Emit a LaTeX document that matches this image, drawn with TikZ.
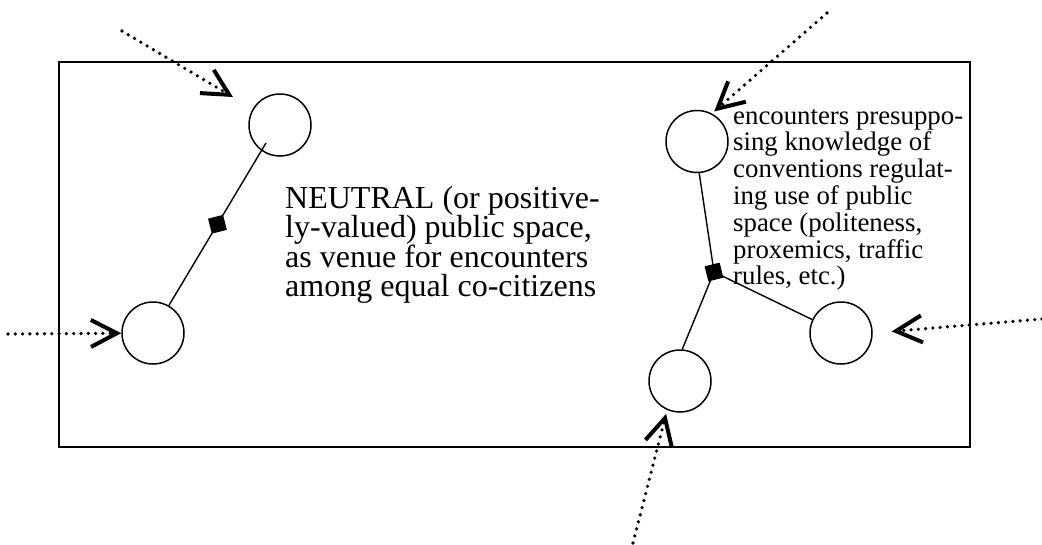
\documentclass[tikz,border=0pt]{standalone}
\usepackage{fontspec}
\setmainfont{Liberation Serif}
\usetikzlibrary{arrows.meta,shapes.geometric,calc}
\begin{document}
\begin{tikzpicture}[x=1pt,y=-1pt,
  person/.style={circle, draw, line width=1.5pt, minimum size=62pt, inner sep=0pt},
  link/.style={line width=1.4pt},
  junction/.style={diamond, fill=black, inner sep=0pt, minimum width=22pt, minimum height=22pt},
  inarrow/.style={line width=3.6pt, line cap=round, dash pattern=on 0pt off 7.3pt,
    -{Straight Barb[length=26pt, width=27pt, line width=4pt]}},
  frame/.style={line width=1.6pt},
  bigtext/.style={anchor=base west, inner sep=0pt, font=\fontsize{32pt}{29.5pt}\selectfont},
  smalltext/.style={anchor=base west, inner sep=0pt, font=\fontsize{26.8pt}{26.8pt}\selectfont}]
\useasboundingbox (0,0) rectangle (1042,544);
\draw[frame] (59,62) rectangle (970,447);

% circles
\node[person] (a) at (280,125) {};
\node[person] (b) at (153,333) {};
\node[person] (c) at (697,141.5) {};
\node[person] (d) at (841,333) {};
\node[person] (e) at (680,381) {};

% left pair link
\coordinate (aend) at ([shift={(-14,18)}]a.center);
\draw[link] (b.60) -- (aend);
\coordinate (M) at ($(b.60)!0.5!(aend)$);
\node[junction, rotate=59] (jl) at (M) {};

% right triad
\coordinate (J) at (714,272);
\draw[link] (c.-86) -- (J);
\draw[link] (d.155) -- (J);
\draw[link] (e.86) -- (J);
\node[junction, rotate=59] (jr) at (J) {};

% incoming dotted arrows
\coordinate (s1) at (122,31);
\coordinate (s2) at (8,334);
\coordinate (s3) at (827,13);
\coordinate (s4) at (1042,319);
\coordinate (s5) at (633,543);
\draw[inarrow, shorten >=23pt] (s1) -- (a);
\draw[inarrow] (s2) -- (b);
\draw[inarrow, shorten >=3pt] (s3) -- (c.62);
\draw[inarrow, shorten >=19pt] (s4) -- (d.east);
\draw[inarrow, shorten >=4pt] (s5) -- (e.246);

% texts
\node[bigtext] (neutral) at (285,208) {\vtop{\lineskiplimit=-50pt
  \hbox{NEUTRAL (or positive-}\hbox{ly-valued) public space,}\hbox{as venue for encounters}\hbox{among equal co-citizens}}};
\node[smalltext] (conv) at (733,124) {\vtop{\lineskiplimit=-50pt
  \hbox{encounters presuppo-}\hbox{sing knowledge of}\hbox{conventions regulat-}\hbox{ing use of public}\hbox{space (politeness,}\hbox{proxemics, traffic}\hbox{rules, etc.)}}};
\end{tikzpicture}
\end{document}
